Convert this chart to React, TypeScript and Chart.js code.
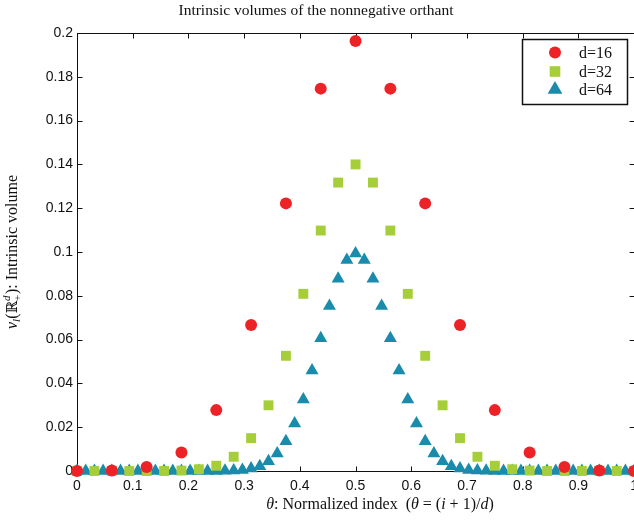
import React, { useEffect, useRef } from "react";
import { Chart, registerables } from "chart.js";

Chart.register(...registerables);

const titleText = "Intrinsic volumes of the nonnegative orthant";
const seriesLabels = ["d=16", "d=32", "d=64"];
const seriesColors = ["#EC2227", "#A6CE39", "#1A8BAA"];

const xTickValues = [0, 0.1, 0.2, 0.3, 0.4, 0.5, 0.6, 0.7, 0.8, 0.9, 1];
const xTickLabels = ["0", "0.1", "0.2", "0.3", "0.4", "0.5", "0.6", "0.7", "0.8", "0.9", "1"];
const yTickValues = [0, 0.02, 0.04, 0.06, 0.08, 0.1, 0.12, 0.14, 0.16, 0.18, 0.2];
const yTickLabels = ["0", "0.02", "0.04", "0.06", "0.08", "0.1", "0.12", "0.14", "0.16", "0.18", "0.2"];

const x16 = [0, 0.0625, 0.125, 0.1875, 0.25, 0.3125, 0.375, 0.4375, 0.5, 0.5625, 0.625, 0.6875, 0.75, 0.8125, 0.875, 0.9375, 1];
const y16 = [0, 0.0002, 0.0018, 0.0085, 0.0278, 0.0667, 0.1222, 0.1746, 0.1964, 0.1746, 0.1222, 0.0667, 0.0278, 0.0085, 0.0018, 0.0002, 0];

const x32 = [0, 0.03125, 0.0625, 0.09375, 0.125, 0.15625, 0.1875, 0.21875, 0.25, 0.28125, 0.3125, 0.34375, 0.375, 0.40625, 0.4375, 0.46875, 0.5, 0.53125, 0.5625, 0.59375, 0.625, 0.65625, 0.6875, 0.71875, 0.75, 0.78125, 0.8125, 0.84375, 0.875, 0.90625, 0.9375, 0.96875, 1];
const y32 = [0, 0, 0, 0, 0, 0, 0.0002, 0.0008, 0.0024, 0.0065, 0.015, 0.03, 0.0526, 0.0809, 0.1098, 0.1317, 0.14, 0.1317, 0.1098, 0.0809, 0.0526, 0.03, 0.015, 0.0065, 0.0024, 0.0008, 0.0002, 0, 0, 0, 0, 0, 0];

const x64 = [0, 0.015625, 0.03125, 0.046875, 0.0625, 0.078125, 0.09375, 0.109375, 0.125, 0.140625, 0.15625, 0.171875, 0.1875, 0.203125, 0.21875, 0.234375, 0.25, 0.265625, 0.28125, 0.296875, 0.3125, 0.328125, 0.34375, 0.359375, 0.375, 0.390625, 0.40625, 0.421875, 0.4375, 0.453125, 0.46875, 0.484375, 0.5, 0.515625, 0.53125, 0.546875, 0.5625, 0.578125, 0.59375, 0.609375, 0.625, 0.640625, 0.65625, 0.671875, 0.6875, 0.703125, 0.71875, 0.734375, 0.75, 0.765625, 0.78125, 0.796875, 0.8125, 0.828125, 0.84375, 0.859375, 0.875, 0.890625, 0.90625, 0.921875, 0.9375, 0.953125, 0.96875, 0.984375, 1];
const y64 = [0, 0, 0, 0, 0, 0, 0, 0, 0, 0, 0, 0, 0, 0, 0, 0, 0, 0.0001, 0.0002, 0.0005, 0.0011, 0.0022, 0.0044, 0.008, 0.0136, 0.0217, 0.0326, 0.0459, 0.0606, 0.0753, 0.0878, 0.0963, 0.0993, 0.0963, 0.0878, 0.0753, 0.0606, 0.0459, 0.0326, 0.0217, 0.0136, 0.008, 0.0044, 0.0022, 0.0011, 0.0005, 0.0002, 0.0001, 0, 0, 0, 0, 0, 0, 0, 0, 0, 0, 0, 0, 0, 0, 0, 0, 0];

const SERIF = '"Liberation Serif", "DejaVu Serif", serif';
const SANS = '"Liberation Sans", Arial, sans-serif';

type Seg = { t: string; f: string; dy?: number; adv?: number };

function drawSegs(ctx: CanvasRenderingContext2D, segs: Seg[], cx: number, baseY: number) {
  let total = 0;
  const widths = segs.map((s) => {
    ctx.font = s.f;
    const w = s.adv !== undefined ? s.adv : ctx.measureText(s.t).width;
    total += w;
    return w;
  });
  let x = cx - total / 2;
  ctx.textAlign = "left";
  ctx.textBaseline = "alphabetic";
  segs.forEach((s, i) => {
    ctx.font = s.f;
    ctx.fillText(s.t, x, baseY + (s.dy || 0));
    x += widths[i];
  });
}

function drawMarker(ctx: CanvasRenderingContext2D, style: string, x: number, y: number, r: number) {
  ctx.beginPath();
  if (style === "circle") {
    ctx.arc(x, y, r, 0, Math.PI * 2);
  } else if (style === "rect") {
    const s = Math.SQRT1_2 * r;
    ctx.rect(x - s, y - s, 2 * s, 2 * s);
  } else {
    for (let k = 0; k < 3; k++) {
      const a = (k * 2 * Math.PI) / 3;
      const px = x + Math.sin(a) * r;
      const py = y - Math.cos(a) * r;
      if (k === 0) ctx.moveTo(px, py);
      else ctx.lineTo(px, py);
    }
    ctx.closePath();
  }
  ctx.fill();
}

const framePlugin = {
  id: "frame",
  beforeDatasetsDraw(chart: any) {
    const { ctx, chartArea } = chart;
    const { left, right, top, bottom } = chartArea;
    const xs = chart.scales.x;
    const ys = chart.scales.y;
    ctx.save();
    ctx.strokeStyle = "#111";
    ctx.lineWidth = 1;
    ctx.strokeRect(left + 0.5, top + 0.5, right - left, bottom - top);
    const tl = 5;
    ctx.beginPath();
    xTickValues.forEach((v) => {
      const px = Math.round(xs.getPixelForValue(v)) + 0.5;
      ctx.moveTo(px, bottom + 0.5);
      ctx.lineTo(px, bottom + 0.5 - tl);
      ctx.moveTo(px, top + 0.5);
      ctx.lineTo(px, top + 0.5 + tl);
    });
    yTickValues.forEach((v) => {
      const py = Math.round(ys.getPixelForValue(v)) + 0.5;
      ctx.moveTo(left + 0.5, py);
      ctx.lineTo(left + 0.5 + tl, py);
      ctx.moveTo(right + 0.5, py);
      ctx.lineTo(right + 0.5 - tl, py);
    });
    ctx.stroke();
    ctx.restore();
  },
};

const textPlugin = {
  id: "texts",
  afterDraw(chart: any) {
    const { ctx, chartArea } = chart;
    ctx.save();
    ctx.fillStyle = "#111";
    // title
    ctx.font = `15.5px ${SERIF}`;
    ctx.textAlign = "center";
    ctx.textBaseline = "alphabetic";
    ctx.fillText(titleText, 316, 15);

    // x axis title
    const n = `16px ${SERIF}`;
    const it = `italic 16px ${SERIF}`;
    drawSegs(
      ctx,
      [
        { t: "θ", f: it },
        { t: ": Normalized index  (", f: n },
        { t: "θ", f: it },
        { t: " = (", f: n },
        { t: "i", f: it },
        { t: " + 1)/", f: n },
        { t: "d", f: it },
        { t: ")", f: n },
      ],
      380,
      509
    );

    // y axis title
    ctx.save();
    ctx.translate(17, (chartArea.top + chartArea.bottom) / 2);
    ctx.rotate(-Math.PI / 2);
    const sm = `italic 11px ${SERIF}`;
    const smn = `11px ${SERIF}`;
    ctx.font = sm;
    const dW = ctx.measureText("d").width;
    drawSegs(
      ctx,
      [
        { t: "ν", f: it },
        { t: "l", f: sm, dy: 3 },
        { t: "(", f: n },
        { t: "ℝ", f: `15px "DejaVu Serif", serif` },
        { t: "d", f: sm, dy: -7, adv: 0 },
        { t: "+", f: smn, dy: 4, adv: dW + 1.5 },
        { t: "): Intrinsic volume", f: n },
      ],
      0,
      0
    );
    ctx.restore();

    // legend
    const bx = 522, by = 39, bw = 105, bh = 65;
    ctx.fillStyle = "#fff";
    ctx.fillRect(bx, by, bw, bh);
    ctx.strokeStyle = "#111";
    ctx.lineWidth = 1.5;
    ctx.strokeRect(bx + 0.5, by + 0.5, bw, bh);
    const rowsY = [52.5, 71.5, 89.5];
    const radii = [6, 7.5, 8.5];
    chart.data.datasets.forEach((ds: any, i: number) => {
      ctx.fillStyle = ds.backgroundColor;
      drawMarker(ctx, ds.pointStyle, 555, rowsY[i], radii[i]);
      ctx.fillStyle = "#111";
      ctx.font = `16px ${SERIF}`;
      ctx.textAlign = "left";
      ctx.textBaseline = "middle";
      ctx.fillText(ds.label, 579, rowsY[i] + 1);
    });
    ctx.restore();
  },
};

export default function App() {
  const ref = useRef<HTMLCanvasElement | null>(null);

  useEffect(() => {
    if (!ref.current) return;
    const mk = (xs: number[], ys: number[]) => xs.map((x, i) => ({ x, y: ys[i] }));
    const chart = new Chart(ref.current, {
      type: "scatter",
      data: {
        datasets: [
          {
            label: seriesLabels[0],
            data: mk(x16, y16),
            pointStyle: "circle",
            pointRadius: 6,
            backgroundColor: seriesColors[0],
            borderWidth: 0,
            clip: false,
          } as any,
          {
            label: seriesLabels[1],
            data: mk(x32, y32),
            pointStyle: "rect",
            pointRadius: 7,
            backgroundColor: seriesColors[1],
            borderWidth: 0,
            clip: false,
          } as any,
          {
            label: seriesLabels[2],
            data: mk(x64, y64),
            pointStyle: "triangle",
            pointRadius: 7.5,
            backgroundColor: seriesColors[2],
            borderWidth: 0,
            clip: false,
          } as any,
        ],
      },
      options: {
        responsive: false,
        animation: false,
        events: [],
        layout: { padding: { top: 33, right: 8, left: 0, bottom: 0 } },
        plugins: {
          legend: { display: false },
          tooltip: { enabled: false },
          title: { display: false },
        },
        scales: {
          x: {
            type: "linear",
            min: 0,
            max: 1,
            afterBuildTicks: (scale: any) => {
              scale.ticks = xTickValues.map((v) => ({ value: v }));
            },
            afterFit: (scale: any) => {
              scale.height = 50;
            },
            ticks: {
              autoSkip: false,
              maxRotation: 0,
              padding: 7,
              color: "#111",
              font: { family: SANS, size: 14 },
              callback: (_v: any, i: number) => xTickLabels[i],
            },
            grid: { display: false, drawTicks: false },
            border: { display: false },
          },
          y: {
            type: "linear",
            min: 0,
            max: 0.2,
            afterBuildTicks: (scale: any) => {
              scale.ticks = yTickValues.map((v) => ({ value: v }));
            },
            afterFit: (scale: any) => {
              scale.width = 77;
            },
            ticks: {
              autoSkip: false,
              padding: 4,
              color: "#111",
              font: { family: SANS, size: 14 },
              callback: (_v: any, i: number) => yTickLabels[i],
            },
            grid: { display: false, drawTicks: false },
            border: { display: false },
          },
        },
      } as any,
      plugins: [framePlugin, textPlugin],
    });
    return () => chart.destroy();
  }, []);

  return (
    <div
      style={{
        position: "fixed",
        left: 0,
        top: 0,
        width: 634,
        height: 521,
        overflow: "hidden",
        background: "#fff",
      }}
    >
      <canvas ref={ref} width={645} height={521} style={{ width: 645, height: 521, display: "block" }} />
    </div>
  );
}
